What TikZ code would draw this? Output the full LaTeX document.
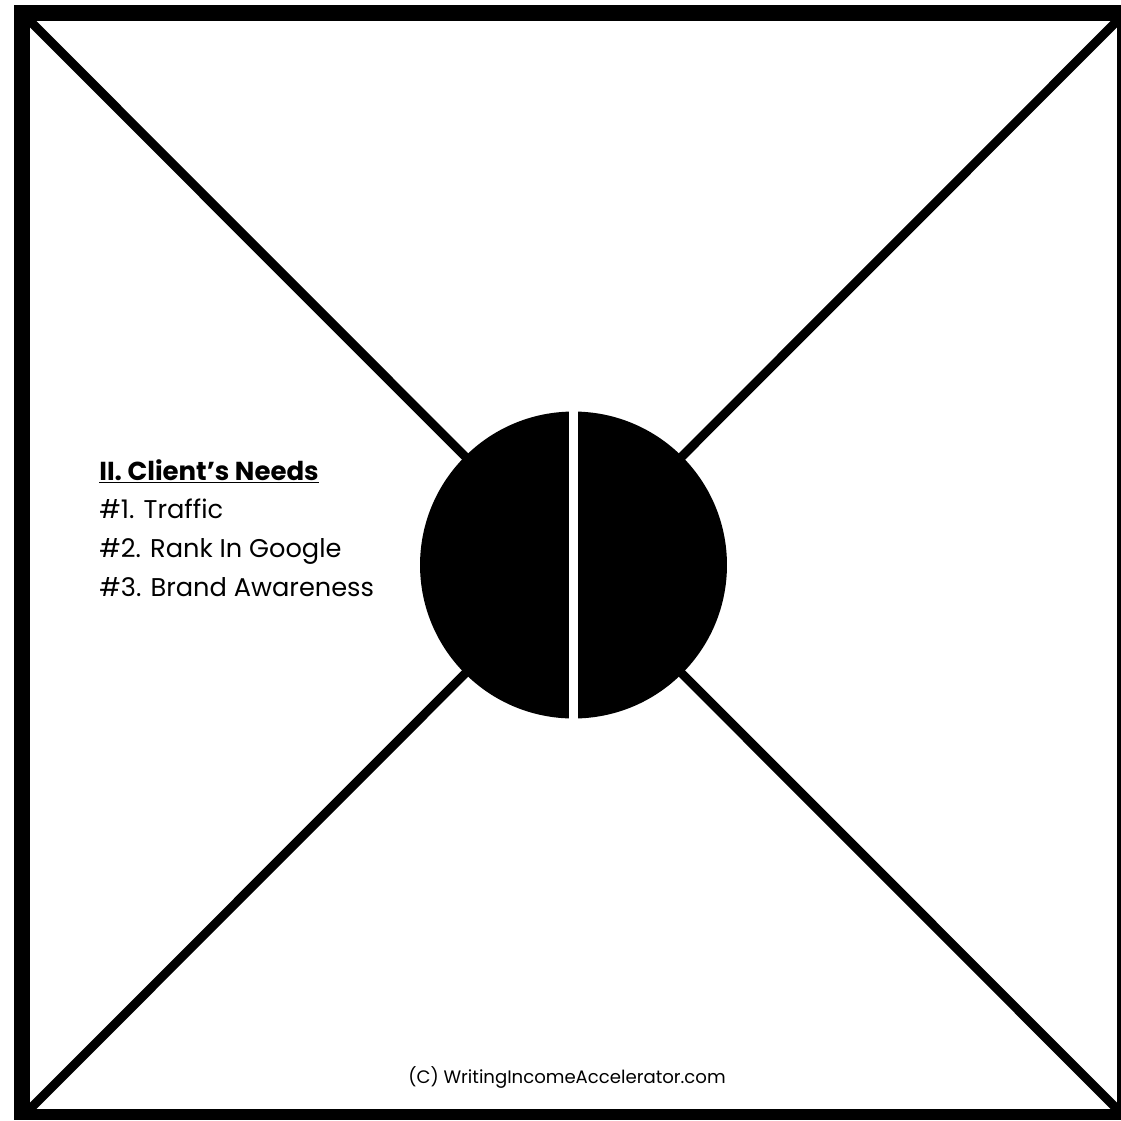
\documentclass[tikz,border=0pt]{standalone}
\usepackage{fontspec}
\setmainfont{Poppins}
\usetikzlibrary{positioning}
\tikzset{
  framebar/.style={fill=black},
  diagline/.style={line width=5.1pt,draw=black},
  hubdisc/.style={circle,fill=black,minimum size=6.14cm,inner sep=0pt},
  gapline/.style={line width=4.6pt,draw=white},
  needhead/.style={font=\fontsize{14.8}{17}\selectfont\bfseries,anchor=base west,inner sep=0pt},
  needitem/.style={font=\fontsize{14.6}{17}\selectfont,anchor=base west,inner sep=0pt},
  credit/.style={font=\fontsize{10.3}{12}\selectfont,anchor=base,inner sep=0pt}
}

\begin{document}
\begin{tikzpicture}[x=0.02cm,y=-0.02cm]

\useasboundingbox (0,0) rectangle (1121,1120);
\clip (0,0) rectangle (1121,1120);

\coordinate (TL) at (30,21);
\coordinate (TR) at (1117,21);
\coordinate (BL) at (30,1109);
\coordinate (BR) at (1117,1109);
\coordinate (C)  at (573.5,565);

% cross
\draw[diagline] (TL) -- (BR);
\draw[diagline] (TR) -- (BL);

% outer frame, cut on the right and at the bottom
\fill[framebar] (14,5) rectangle (30,1120);
\fill[framebar] (14,5) rectangle (1121,21);
\fill[framebar] (1117,5) rectangle (1121,1120);
\fill[framebar] (14,1109) rectangle (1121,1120);

% split disc in the middle
\node[hubdisc] (hub) at (C) {};
\draw[gapline] (hub.north) -- (hub.south);

\node[needhead] (needs) at (99,480) {\underline{II. Client’s Needs}};
\node[needitem] (needa) at (99,518) {\#1. Traffic};
\node[needitem] (needb) at (99,557) {\#2. Rank In Google};
\node[needitem] (needc) at (99,596) {\#3. Brand Awareness};

\node[credit] (copy) at (567,1083) {(C) WritingIncomeAccelerator.com};

\end{tikzpicture}
\end{document}
